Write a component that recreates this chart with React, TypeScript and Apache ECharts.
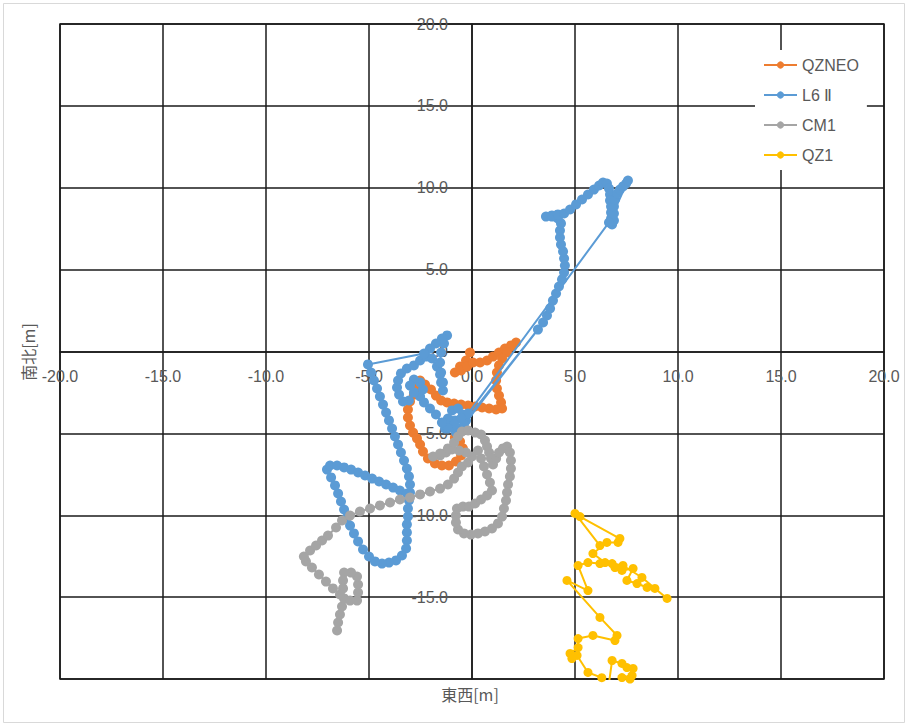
import React, { useEffect, useRef } from "react";
import * as echarts from "echarts";

const seriesNames = ["QZNEO", "L6 Ⅱ", "CM1", "QZ1"];
const seriesColors = ["#ED7D31", "#5B9BD5", "#A5A5A5", "#FFC000"];
const axisMin = -20;
const axisMax = 20;
const axisStep = 5;
const xAxisTitle = "東西[m]";
const yAxisTitle = "南北[m]";

const qzneoPoints: number[][] = [
  [-0.10, -0.06], [-0.29, -0.55], [-0.58, -0.92], [-0.83, -1.28], [-0.53, -1.16], [-0.24, -0.92],
  [0.05, -0.67], [0.39, -0.67], [0.73, -0.55], [1.02, -0.31], [1.31, -0.06], [1.60, 0.18],
  [1.89, 0.37], [2.14, 0.55], [1.94, 0.31], [1.70, -0.06], [1.46, -0.43], [1.31, -0.85],
  [1.21, -1.28], [1.17, -1.77], [1.21, -2.26], [1.31, -2.69], [1.41, -3.11], [1.46, -3.48],
  [1.17, -3.54], [0.83, -3.48], [0.49, -3.42], [0.15, -3.36], [-0.19, -3.30], [-0.53, -3.24],
  [-0.87, -3.18], [-1.21, -3.11], [-1.50, -2.99], [-1.75, -2.69], [-1.99, -2.32], [-2.28, -2.02],
  [-2.52, -1.77], [-2.62, -2.20], [-2.82, -2.63], [-3.01, -3.05], [-3.11, -3.54], [-3.11, -4.03],
  [-3.01, -4.52], [-2.86, -4.95], [-2.67, -5.31], [-2.52, -5.68], [-2.38, -6.11], [-2.14, -6.53],
  [-1.80, -6.84], [-1.46, -6.96], [-1.12, -6.96], [-0.78, -6.72], [-0.53, -6.35], [-0.44, -5.92],
  [-0.58, -5.50], [-0.83, -5.25]
];

const l6Points: number[][] = [
  [-0.83, -4.21], [-1.07, -4.52], [-1.31, -4.70], [-1.17, -4.09], [-0.97, -3.60], [-0.68, -3.48],
  [-0.44, -3.85], [-0.29, -4.21], [-0.49, -4.70], [-0.78, -4.95],
  [3.20, 1.34], [-0.39, -4.46], [3.45, 1.77],
  [3.64, 2.20], [3.79, 2.63], [3.93, 3.11], [4.08, 3.54], [4.22, 3.97], [4.37, 4.40], [4.47, 4.82],
  [4.51, 5.25], [4.47, 5.68], [4.42, 6.11], [4.32, 6.53], [4.27, 6.96], [4.27, 7.39], [4.32, 7.82],
  [4.17, 8.12], [3.88, 8.24], [3.59, 8.24], [3.88, 8.31], [4.17, 8.37], [4.47, 8.43], [4.76, 8.67],
  [5.05, 8.98], [5.34, 9.28], [5.63, 9.59], [5.92, 9.89], [6.17, 10.14], [6.36, 10.32], [6.55, 10.26],
  [6.65, 9.95], [6.70, 9.59], [6.70, 9.22], [6.75, 8.85], [6.75, 8.49], [6.75, 8.12], [6.80, 7.76],
  [6.89, 8.00], [6.89, 8.43], [6.89, 8.85], [6.94, 9.28], [7.04, 9.65], [7.18, 9.89], [7.33, 10.08],
  [7.48, 10.26], [7.57, 10.44],
  [6.65, 7.88], [-0.19, -3.79],
  [-0.53, -4.09], [-0.87, -4.46], [-1.17, -4.70], [-1.46, -4.34], [-1.75, -3.85], [-2.04, -3.48],
  [-2.33, -3.11], [-2.52, -2.75], [-2.38, -2.32], [-2.52, -1.89], [-2.82, -1.71], [-3.01, -2.08],
  [-2.82, -2.50], [-3.06, -2.99], [-3.35, -3.05], [-3.54, -2.63], [-3.64, -2.20], [-3.59, -1.77],
  [-3.45, -1.34], [-3.16, -1.04], [-2.82, -0.85], [-2.52, -0.55], [-2.23, -0.31], [-1.94, -0.43],
  [-1.70, -0.92], [-1.55, -1.40], [-1.50, -1.89], [-1.41, -2.38], [-1.41, -1.89], [-1.50, -1.28],
  [-1.55, -0.67], [-1.50, -0.06], [-1.36, 0.49], [-1.21, 0.98], [-1.46, 0.79], [-1.75, 0.49],
  [-2.04, 0.18], [-2.33, -0.12],
  [-5.05, -0.79],
  [-4.90, -1.28], [-4.76, -1.77], [-4.61, -2.26], [-4.47, -2.75], [-4.32, -3.24], [-4.17, -3.73],
  [-4.03, -4.21], [-3.88, -4.70], [-3.74, -5.19], [-3.59, -5.68], [-3.45, -6.17], [-3.30, -6.66],
  [-3.16, -7.15], [-3.06, -7.63], [-3.01, -8.12], [-3.01, -8.61], [-3.06, -9.10], [-3.11, -9.59],
  [-3.11, -10.08], [-3.16, -10.56], [-3.16, -11.05], [-3.16, -11.54], [-3.20, -12.03], [-3.40, -12.46],
  [-3.69, -12.76], [-4.03, -12.89], [-4.37, -12.95], [-4.71, -12.82], [-5.00, -12.52], [-5.29, -12.09],
  [-5.53, -11.60], [-5.73, -11.11], [-5.92, -10.63], [-6.07, -10.14], [-6.21, -9.65], [-6.36, -9.16],
  [-6.50, -8.67], [-6.65, -8.18], [-6.84, -7.69], [-7.04, -7.21], [-6.89, -6.96], [-6.55, -6.96],
  [-6.21, -7.08], [-5.87, -7.21], [-5.53, -7.39], [-5.19, -7.57], [-4.85, -7.76], [-4.51, -7.94],
  [-4.17, -8.12], [-3.83, -8.31], [-3.50, -8.49], [-3.16, -8.67]
];

const cm1Points: number[][] = [
  [-6.55, -17.04], [-6.50, -16.55], [-6.41, -16.06], [-6.31, -15.57], [-6.21, -15.08], [-5.92, -15.21],
  [-5.58, -15.21], [-5.53, -14.72], [-5.53, -14.23], [-5.58, -13.74], [-5.87, -13.50], [-6.21, -13.50],
  [-6.26, -13.98], [-6.26, -14.47], [-6.41, -14.84], [-6.75, -14.47], [-7.09, -14.05], [-7.43, -13.62],
  [-7.77, -13.19], [-8.06, -12.82], [-8.16, -12.52], [-7.86, -12.15], [-7.57, -11.85], [-7.28, -11.54],
  [-6.99, -11.24], [-6.60, -10.75], [-6.31, -10.32], [-5.92, -10.02], [-5.44, -9.77], [-4.95, -9.59],
  [-4.47, -9.40], [-3.98, -9.22], [-3.50, -9.04], [-3.01, -8.92], [-2.52, -8.73], [-2.04, -8.55],
  [-1.55, -8.37], [-1.17, -8.12], [-0.87, -7.76], [-0.68, -7.39], [-0.49, -7.02],
  [-0.19, -6.78], [0.00, -6.41], [-0.29, -6.17], [-0.63, -6.05], [-0.97, -5.98], [-1.26, -6.17],
  [-1.55, -6.35], [-1.89, -6.41], [-1.55, -6.23], [-1.17, -5.92], [-0.87, -5.56], [-0.68, -5.19],
  [-0.49, -4.89], [-0.19, -4.82], [0.15, -4.95], [0.44, -5.07], [0.63, -5.44], [0.73, -5.80],
  [0.83, -6.17], [0.92, -6.53], [1.02, -6.90], [1.17, -6.53], [1.31, -6.17], [1.50, -5.92],
  [1.70, -5.80], [1.84, -6.17], [1.89, -6.66], [1.89, -7.15], [1.84, -7.63], [1.75, -8.12],
  [1.70, -8.61], [1.65, -9.10], [1.55, -9.59], [1.46, -10.08], [1.26, -10.50], [0.97, -10.81],
  [0.63, -10.99], [0.29, -11.11], [-0.05, -11.18], [-0.39, -11.11], [-0.68, -10.87], [-0.78, -10.44],
  [-0.78, -10.02], [-0.73, -9.59], [-0.44, -9.47], [-0.15, -9.47], [0.15, -9.28], [0.44, -9.04],
  [0.73, -8.79], [0.97, -8.49], [0.87, -8.00], [0.73, -7.51], [0.58, -7.02], [0.44, -6.53],
  [0.29, -6.05]
];

const qz1Points: number[][] = [
  [6.21, -11.85], [5.00, -9.89], [5.24, -10.08], [7.18, -11.42], [7.09, -11.66], [6.55, -11.66],
  [5.87, -12.34], [6.46, -12.89], [6.94, -13.19], [7.28, -13.37], [7.82, -13.25], [7.52, -13.98],
  [8.01, -14.17], [8.50, -14.41], [8.88, -14.47], [9.47, -15.08], [8.25, -13.80], [7.33, -13.07],
  [6.80, -12.95], [6.21, -12.95], [5.63, -12.89], [5.15, -13.07], [5.63, -14.60], [4.61, -13.98],
  [6.21, -16.24], [7.04, -17.34], [6.94, -17.65], [5.87, -17.34], [5.15, -17.53], [5.15, -18.08],
  [4.76, -18.44], [4.85, -18.75], [5.10, -18.56], [5.63, -19.60], [6.30, -19.92], [6.60, -20.70],
  [6.80, -18.87], [7.28, -19.05], [7.52, -19.30], [7.82, -19.36], [7.77, -19.79], [7.28, -19.91],
  [7.67, -20.00]
];

const allSeries = [qzneoPoints, l6Points, cm1Points, qz1Points];
const markerSizes = [10, 10, 10, 9];

const labelFont = "'Liberation Sans', Arial, sans-serif";
const labelColor = "#595959";
const gridColor = "#1a1a1a";

export default function App() {
  const ref = useRef<HTMLDivElement>(null);

  useEffect(() => {
    if (!ref.current) return;
    const chart = echarts.init(ref.current, undefined, { renderer: "svg" });
    const fmt = (v: number) => v.toFixed(1);
    const gridLeft = 60;
    const gridTop = 24;
    const gridW = 824;
    const gridH = 655;
    const option: any = {
      animation: false,
      backgroundColor: "#ffffff",
      grid: {
        left: gridLeft,
        top: gridTop,
        width: gridW,
        height: gridH,
        show: true,
        borderColor: gridColor,
        borderWidth: 1.5,
      },
      xAxis: {
        type: "value",
        position: "bottom",
        min: axisMin,
        max: axisMax,
        interval: axisStep,
        offset: -gridH / 2,
        axisLine: { onZero: false, lineStyle: { color: gridColor, width: 1.5 } },
        axisTick: { show: false },
        splitLine: { show: true, lineStyle: { color: gridColor, width: 1.5 } },
        axisLabel: {
          formatter: fmt,
          color: labelColor,
          fontSize: 16,
          fontFamily: labelFont,
          margin: 17,
        },
      },
      yAxis: {
        type: "value",
        position: "left",
        min: axisMin,
        max: axisMax,
        interval: axisStep,
        offset: -gridW / 2,
        axisLine: { onZero: false, lineStyle: { color: gridColor, width: 1.5 } },
        axisTick: { show: false },
        splitLine: { show: true, lineStyle: { color: gridColor, width: 1.5 } },
        axisLabel: {
          formatter: (v: number) => (v === axisMin ? "" : fmt(v)),
          color: labelColor,
          fontSize: 16,
          fontFamily: labelFont,
          margin: 24,
        },
      },
      legend: {
        orient: "vertical",
        left: 755,
        top: 50,
        backgroundColor: "#ffffff",
        padding: [6, 8, 6, 8],
        itemWidth: 33,
        itemHeight: 9,
        itemGap: 12,
        textStyle: { fontSize: 16, color: labelColor, fontFamily: labelFont, lineHeight: 18 },
        data: seriesNames,
      },
      series: allSeries.map((pts, i) => ({
        name: seriesNames[i],
        type: "line",
        data: pts,
        symbol: "circle",
        symbolSize: markerSizes[i],
        showSymbol: true,
        showAllSymbol: true,
        clip: true,
        color: seriesColors[i],
        itemStyle: { color: seriesColors[i] },
        lineStyle: { color: seriesColors[i], width: 2 },
        emphasis: { disabled: true },
        z: 2 + i,
      })),
      graphic: [
        {
          type: "rect",
          shape: { x: 3.5, y: 3.5, width: 901, height: 719 },
          style: { fill: "none", stroke: "#d9d9d9", lineWidth: 1 },
          silent: true,
        },
        {
          type: "text",
          x: 470,
          y: 694,
          style: {
            text: xAxisTitle,
            fill: labelColor,
            fontSize: 16,
            fontFamily: "'Noto Sans CJK JP', sans-serif",
            align: "center",
            verticalAlign: "middle",
          },
        },
        {
          type: "text",
          x: 28,
          y: 352,
          rotation: Math.PI / 2,
          style: {
            text: yAxisTitle,
            fill: labelColor,
            fontSize: 16,
            fontFamily: "'Noto Sans CJK JP', sans-serif",
            align: "center",
            verticalAlign: "middle",
          },
        },
      ],
    };
    chart.setOption(option);
    return () => chart.dispose();
  }, []);

  return (
    <div
      ref={ref}
      style={{ position: "fixed", left: 0, top: 0, width: 908, height: 727, background: "#fff" }}
    />
  );
}
